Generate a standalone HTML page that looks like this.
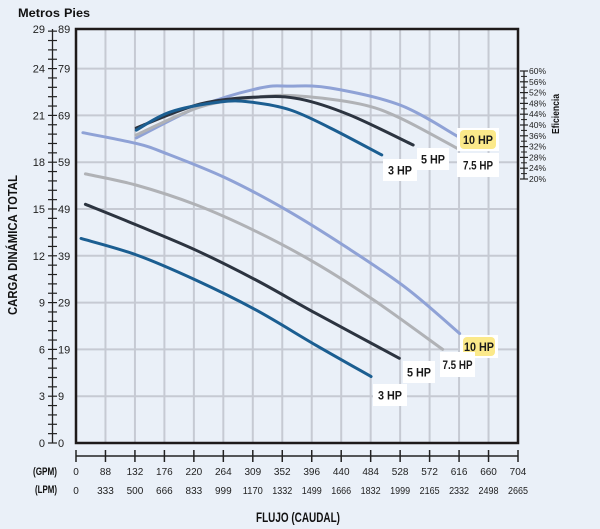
<!DOCTYPE html>
<html><head><meta charset="utf-8"><style>
html,body{margin:0;padding:0;background:#eaf0f8;}
svg{display:block;font-family:"Liberation Sans Narrow","Liberation Sans",sans-serif;}
</style></head><body>
<svg id="chart" width="600" height="529" viewBox="0 0 600 529">
<rect x="0" y="0" width="600" height="529" fill="#eaf0f8"/>
<g id="grid"></g>
<g id="axes"></g>
<g id="series"></g>
<g id="labels"></g>
<text x="18" y="17" font-size="12" font-weight="bold" fill="#111" textLength="42" lengthAdjust="spacingAndGlyphs">Metros</text>
<text x="64" y="17" font-size="12" font-weight="bold" fill="#111" textLength="26" lengthAdjust="spacingAndGlyphs">Pies</text>
<text transform="translate(17,245) rotate(-90)" text-anchor="middle" font-size="13" font-weight="bold" fill="#111" textLength="140" lengthAdjust="spacingAndGlyphs">CARGA DINÁMICA TOTAL</text>
<text transform="translate(559,114) rotate(-90)" text-anchor="middle" font-size="10" font-weight="bold" fill="#111" textLength="40" lengthAdjust="spacingAndGlyphs">Eficiencia</text>
<text x="298" y="522" text-anchor="middle" font-size="14" font-weight="bold" fill="#111" textLength="84" lengthAdjust="spacingAndGlyphs">FLUJO (CAUDAL)</text>
<text x="57" y="475" text-anchor="end" font-size="11" font-weight="bold" fill="#111" textLength="24" lengthAdjust="spacingAndGlyphs">(GPM)</text>
<text x="57" y="493" text-anchor="end" font-size="11" font-weight="bold" fill="#111" textLength="22" lengthAdjust="spacingAndGlyphs">(LPM)</text>
</svg>
<script>
const gpmTicks=["0","88","132","176","220","264","309","352","396","440","484","528","572","616","660","704"];
const lpmTicks=["0","333","500","666","833","999","1170","1332","1499","1666","1832","1999","2165","2332","2498","2665"];
const metroTicks=["0","3","6","9","12","15","18","21","24","29"];
const feetTicks=["0","9","19","29","39","49","59","69","79","89"];
const effTicks=["20%","24%","28%","32%","36%","40%","44%","48%","52%","56%","60%"];
const effValues=[20,24,28,32,36,40,44,48,52,56,60];

const head3Gpm=[8,96,191,287,382,470];
const head3Ft=[43.7,40.2,34.8,28.4,20.9,14.2];
const head5Gpm=[15,96,191,287,382,515];
const head5Ft=[51.0,46.6,41.2,34.8,27.7,18.1];
const head75Gpm=[15,96,191,287,382,478,584];
const head75Ft=[57.5,55.1,50.9,45.2,38.4,30.2,20.0];
const head10Gpm=[11,96,143,239,335,430,526,611];
const head10Ft=[66.3,64.0,61.9,56.6,49.8,41.9,33.1,23.4];

const eff3Gpm=[96,150,229,277,341,405,487];
const eff3Val=[38.1,44.8,48.5,48.5,45.6,38.9,28.9];
const eff5Gpm=[96,198,293,357,436,537];
const eff5Val=[38.9,47.8,50.4,49.6,43.7,32.6];
const eff75Gpm=[96,198,293,357,452,516,609];
const eff75Val=[36.3,46.7,50.4,50.7,47.8,42.6,31.1];
const eff10Gpm=[96,198,293,341,405,516,607];
const eff10Val=[35.2,47,53.7,54.4,53.7,47.4,35.9];

const NS="http://www.w3.org/2000/svg";
const X0=76,X1=518,Y0=443,YT=29;
function xs(g){return X0+g/704*(X1-X0);}
function ys(ft){return Y0-ft*4.68;}
function ye(e){return 179-(e-20)*2.7;}
function mk(tag,attrs,parent){const e=document.createElementNS(NS,tag);for(const k in attrs)e.setAttribute(k,attrs[k]);parent.appendChild(e);return e;}
const grid=document.getElementById('grid'),axes=document.getElementById('axes'),series=document.getElementById('series'),labels=document.getElementById('labels');
const step=(X1-X0)/15;
for(let i=0;i<gpmTicks.length;i++){
  const x=X0+i*step;
  if(i>0&&i<15){const l=mk('line',{x1:x,y1:YT,x2:x,y2:Y0,stroke:'#c6cad3','stroke-width':2},grid);
  
  }
  const t=mk('line',{x1:x,y1:450,x2:x,y2:462,stroke:'#222','stroke-width':1.5},axes);
  
  
  const a=mk('text',{x:x,y:475,'text-anchor':'middle','font-size':10,fill:'#222'},axes);a.textContent=gpmTicks[i];
  
  
  const b=mk('text',{x:x,y:494,'text-anchor':'middle','font-size':10,fill:'#222'},axes);b.textContent=lpmTicks[i];
  if(lpmTicks[i].length>3){b.setAttribute('textLength','20');b.setAttribute('lengthAdjust','spacingAndGlyphs');}
  
  
}
mk('line',{x1:X0,y1:456,x2:X1,y2:456,stroke:'#222','stroke-width':1.5},axes);
for(let k=0;k<feetTicks.length;k++){
  const y=k<9?Y0-k*46.8:YT;
  if(k>0&&k<9){const l=mk('line',{x1:X0,y1:y,x2:X1,y2:y,stroke:'#c6cad3','stroke-width':2},grid);
  
  }
  const m=mk('text',{x:45,y:y+4,'text-anchor':'end','font-size':11,fill:'#222'},axes);m.textContent=metroTicks[k];
  
  
  const f=mk('text',{x:58,y:y+4,'font-size':11,fill:'#222'},axes);f.textContent=feetTicks[k];
  
  
}
mk('line',{x1:52.5,y1:YT,x2:52.5,y2:Y0,stroke:'#222','stroke-width':1.3},axes);
for(let y=Y0;y>=YT-1;y-=9.36){mk('line',{x1:48,y1:y,x2:57,y2:y,stroke:'#222','stroke-width':1.2},axes);}
const fr=mk('rect',{x:X0,y:YT,width:X1-X0,height:Y0-YT,fill:'none',stroke:'#1e1a1a','stroke-width':2.5},axes);


mk('line',{x1:524,y1:ye(60),x2:524,y2:ye(20),stroke:'#222','stroke-width':1.3},axes);
for(let i=0;i<effValues.length;i++){
  const y=ye(effValues[i]);
  mk('line',{x1:520,y1:y,x2:528,y2:y,stroke:'#222','stroke-width':1.2},axes);
  if(i<effValues.length-1)mk('line',{x1:521,y1:y-5.4,x2:527,y2:y-5.4,stroke:'#222','stroke-width':1},axes);
  const t=mk('text',{x:529,y:y+3,'font-size':8.5,fill:'#222'},axes);t.textContent=effTicks[i];
  
  
}
function path(gs,vs,fy){const p=gs.map((g,i)=>[xs(g),fy(vs[i])]);
  let d='M'+p[0][0]+','+p[0][1];
  for(let i=1;i<p.length;i++){const p0=p[i-2]||p[i-1],p1=p[i-1],p2=p[i],p3=p[i+1]||p[i];
    const c1=[p1[0]+(p2[0]-p0[0])/6,p1[1]+(p2[1]-p0[1])/6],c2=[p2[0]-(p3[0]-p1[0])/6,p2[1]-(p3[1]-p1[1])/6];
    d+=' C'+c1+' '+c2+' '+p2;}
  return d;}
const colors={c3:'#1b5e91',c5:'#2c3440',c75:'#b0b2b6',c10:'#8fa2d6'};
const defs=[
 [head10Gpm,head10Ft,ys,colors.c10,'head-curve-10hp'],
 [head75Gpm,head75Ft,ys,colors.c75,'head-curve-7-5hp'],
 [head5Gpm,head5Ft,ys,colors.c5,'head-curve-5hp'],
 [head3Gpm,head3Ft,ys,colors.c3,'head-curve-3hp'],
 [eff10Gpm,eff10Val,ye,colors.c10,'efficiency-curve-10hp'],
 [eff75Gpm,eff75Val,ye,colors.c75,'efficiency-curve-7-5hp'],
 [eff5Gpm,eff5Val,ye,colors.c5,'efficiency-curve-5hp'],
 [eff3Gpm,eff3Val,ye,colors.c3,'efficiency-curve-3hp']];
for(const d of defs){const p=mk('path',{d:path(d[0],d[1],d[2]),fill:'none',stroke:d[3],'stroke-width':3,'stroke-linecap':'round'},series);
  
  }
const lbls=[
 [460,130,36,19,'10 HP','#fbe98a','label-10hp-efficiency'],
 [417,148,32,22,'5 HP','#fff','label-5hp-efficiency'],
 [383,159,34,22,'3 HP','#fff','label-3hp-efficiency'],
 [457,153,42,24,'7.5 HP','#fff','label-7-5hp-efficiency'],
 [463,337,32,19,'10 HP','#fbe98a','label-10hp-head'],
 [440,352,35,25,'7.5 HP','#fff','label-7-5hp-head'],
 [403,361,32,22,'5 HP','#fff','label-5hp-head'],
 [373,384,34,22,'3 HP','#fff','label-3hp-head']];
for(const l of lbls){
  const g=mk('g',{},labels);
  
  
  if(l[5]!=='#fff')mk('rect',{x:l[0]-3,y:l[1]-2,width:l[2]+6,height:l[3]+4,fill:'#fff'},g);
  mk('rect',{x:l[0],y:l[1],width:l[2],height:l[3],fill:l[5],rx:l[5]==='#fff'?0:4},g);
  const t=mk('text',{x:l[0]+l[2]/2,y:l[1]+l[3]/2+4.5,'text-anchor':'middle','font-size':12,'font-weight':'bold',fill:'#1a1a1a',textLength:l[4].length>4?30:24,lengthAdjust:'spacingAndGlyphs'},g);t.textContent=l[4];
}
</script>
</body></html>
